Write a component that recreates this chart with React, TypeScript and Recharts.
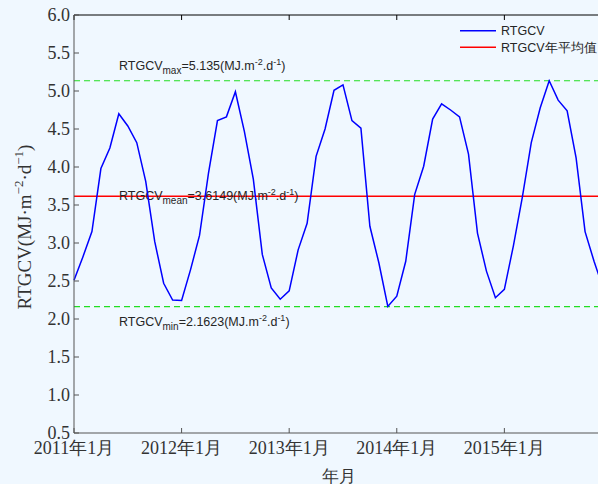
import {
  LineChart,
  Line,
  XAxis,
  YAxis,
  ReferenceLine,
  Legend
} from "recharts";

// monthly RTGCV, Jan 2011 - Dec 2015
const rtgcv = [
  2.51, 2.82, 3.15, 3.98, 4.25, 4.70, 4.54, 4.32, 3.81, 3.02, 2.47, 2.25,
  2.245, 2.65, 3.10, 3.92, 4.61, 4.66, 4.99, 4.47, 3.84, 2.85, 2.41, 2.26,
  2.37, 2.91, 3.26, 4.14, 4.50, 5.01, 5.08, 4.61, 4.51, 3.22, 2.74, 2.165,
  2.30, 2.76, 3.64, 4.01, 4.63, 4.83, 4.75, 4.66, 4.17, 3.13, 2.63, 2.28,
  2.39, 2.96, 3.60, 4.32, 4.78, 5.135, 4.88, 4.74, 4.12, 3.15, 2.76, 2.41
];

const yearTicks = [0, 12, 24, 36, 48];
const yearLabels = ["2011年1月", "2012年1月", "2013年1月", "2014年1月", "2015年1月"];
const yTicks = [0.5, 1.0, 1.5, 2.0, 2.5, 3.0, 3.5, 4.0, 4.5, 5.0, 5.5, 6.0];

const maxVal = 5.135;
const meanVal = 3.6149;
const minVal = 2.1623;

const data = rtgcv.map((v, i) => ({ m: i, v }));

const serif = "'Liberation Serif', 'Times New Roman', serif";
const sans = "'Liberation Sans', Arial, sans-serif";

function StatLabel(props: any) {
  const { viewBox, sub, val, dy } = props;
  const x = viewBox.x + 45;
  const y = viewBox.y + dy;
  return (
    <text x={x} y={y} fontSize={12.5} fill="#262626" fontFamily={sans}>
      RTGCV
      <tspan fontSize={10} dy={4}>{sub}</tspan>
      <tspan fontSize={12.5} dy={-4}>={val}(MJ.m</tspan>
      <tspan fontSize={9} dy={-5}>-2</tspan>
      <tspan fontSize={12.5} dy={5}>.d</tspan>
      <tspan fontSize={9} dy={-5}>-1</tspan>
      <tspan fontSize={12.5} dy={5}>)</tspan>
    </text>
  );
}

function YTitle(props: any) {
  const { viewBox } = props;
  const x = viewBox.x + 31;
  const y = viewBox.y + viewBox.height / 2 + 3;
  return (
    <text
      x={x}
      y={y}
      transform={`rotate(-90, ${x}, ${y})`}
      textAnchor="middle"
      fontSize={19}
      fill="#333"
      fontFamily={serif}
    >
      RTGCV(MJ·m
      <tspan fontSize={13} dy={-8}>−2</tspan>
      <tspan fontSize={19} dy={8}>·d</tspan>
      <tspan fontSize={13} dy={-8}>−1</tspan>
      <tspan fontSize={19} dy={8}>)</tspan>
    </text>
  );
}

function XTitle(props: any) {
  const { viewBox } = props;
  return (
    <text
      x={viewBox.x + viewBox.width / 2}
      y={viewBox.y + 49}
      textAnchor="middle"
      fontSize={17}
      fill="#333"
      fontFamily={serif}
    >
      年月
    </text>
  );
}

function LegendBox() {
  return (
    <svg width={143} height={45}>
      <line x1={5} x2={41} y1={15.7} y2={15.7} stroke="#0000ff" strokeWidth={1.5} />
      <text x={46} y={20.2} fontSize={12.5} fill="#262626" fontFamily={sans}>RTGCV</text>
      <line x1={5} x2={41} y1={32.3} y2={32.3} stroke="#ff0000" strokeWidth={1.5} />
      <text x={46} y={36.8} fontSize={12.5} fill="#262626" fontFamily={sans}>RTGCV年平均值</text>
    </svg>
  );
}

export default function App() {
  return (
    <div
      style={{
        position: "fixed",
        left: 0,
        top: 0,
        width: 598,
        height: 484,
        overflow: "hidden",
        background: "#f0f8ff"
      }}
    >
      <LineChart width={612} height={484} data={data} margin={{ top: 0, right: 9, bottom: 0, left: 0 }}>
        <XAxis
          xAxisId="b"
          type="number"
          dataKey="m"
          domain={[0, 59]}
          ticks={yearTicks}
          tickFormatter={(t: number) => yearLabels[yearTicks.indexOf(t)]}
          height={51}
          stroke="#555"
          tickSize={-5}
          tickMargin={13}
          tick={{ fontSize: 18, fill: "#333", fontFamily: serif }}
          label={<XTitle />}
        />
        <XAxis
          xAxisId="t"
          orientation="top"
          type="number"
          dataKey="m"
          domain={[0, 59]}
          ticks={yearTicks}
          height={15}
          stroke="#000"
          tickSize={-5}
          tick={() => <g />}
        />
        <YAxis
          domain={[0.5, 6]}
          ticks={yTicks}
          width={74}
          stroke="#555"
          tickSize={-5}
          tickMargin={9}
          tickFormatter={(t: number) => t.toFixed(1)}
          tick={{ fontSize: 18, fill: "#333", fontFamily: serif }}
          label={<YTitle />}
        />
        <ReferenceLine
          xAxisId="b"
          y={maxVal}
          stroke="#22dd22"
          strokeDasharray="6 4"
          strokeWidth={1.2}
          label={<StatLabel sub="max" val="5.135" dy={-11} />}
        />
        <ReferenceLine
          xAxisId="b"
          y={minVal}
          stroke="#22dd22"
          strokeDasharray="6 4"
          strokeWidth={1.2}
          label={<StatLabel sub="min" val="2.1623" dy={19} />}
        />
        <ReferenceLine
          xAxisId="b"
          y={meanVal}
          stroke="#ff0000"
          strokeWidth={1.3}
          label={<StatLabel sub="mean" val="3.6149" dy={4} />}
        />
        <Line
          xAxisId="b"
          dataKey="v"
          stroke="#0000ff"
          strokeWidth={1.5}
          dot={false}
          isAnimationActive={false}
        />
        <Legend
          layout="vertical"
          align="center"
          verticalAlign="middle"
          wrapperStyle={{ position: "absolute", top: 15, left: 455, width: 143, height: 45 }}
          content={() => <LegendBox />}
        />
      </LineChart>
    </div>
  );
}
